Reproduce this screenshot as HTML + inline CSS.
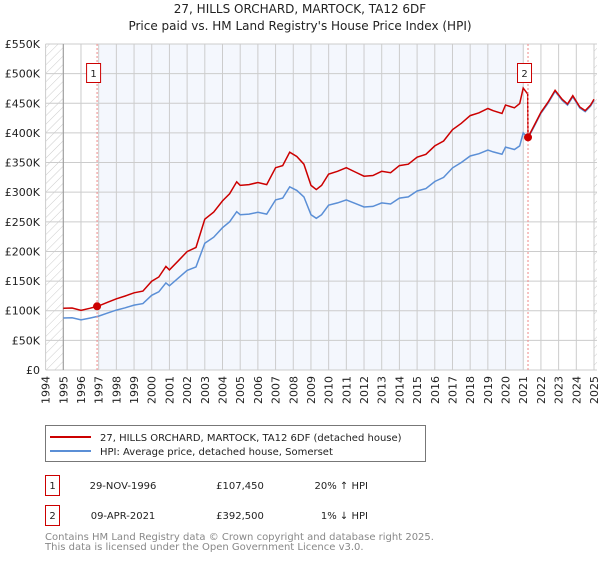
<!DOCTYPE html>
<html><head><meta charset="utf-8"><style>
body{margin:0;background:#fff;font-family:"DejaVu Sans","Liberation Sans",sans-serif;}
svg text{font-family:"DejaVu Sans","Liberation Sans",sans-serif;}
</style></head><body>
<svg id="c" width="600" height="560" xmlns="http://www.w3.org/2000/svg">
<defs><pattern id="hatch" width="6" height="6" patternUnits="userSpaceOnUse" patternTransform="rotate(45)"><line x1="0" y1="0" x2="0" y2="6" stroke="#ccc" stroke-width="1"/></pattern></defs>
<text x="300" y="13" text-anchor="middle" font-size="12" fill="#222">27, HILLS ORCHARD, MARTOCK, TA12 6DF</text>
<text x="300" y="30" text-anchor="middle" font-size="12" fill="#222">Price paid vs. HM Land Registry's House Price Index (HPI)</text>
<g id="plot"></g>
<g>
<rect x="45.5" y="425.5" width="380" height="36" fill="#fff" stroke="#777"/>
<line x1="50" y1="437" x2="91" y2="437" stroke="#cc0000" stroke-width="2"/>
<text x="100" y="441" font-size="10" fill="#222">27, HILLS ORCHARD, MARTOCK, TA12 6DF (detached house)</text>
<line x1="50" y1="451" x2="91" y2="451" stroke="#5b8fd6" stroke-width="2"/>
<text x="100" y="455" font-size="10" fill="#222">HPI: Average price, detached house, Somerset</text>
</g>
<g font-size="10" fill="#222">
<rect x="45.5" y="475.5" width="14" height="20" fill="#fff" stroke="#cc0000"/>
<text x="52.5" y="489" text-anchor="middle">1</text>
<text x="123" y="489" text-anchor="middle">29-NOV-1996</text>
<text x="240" y="489" text-anchor="middle">£107,450</text>
<text x="368" y="489" text-anchor="end">20% ↑ HPI</text>
<rect x="45.5" y="505.5" width="14" height="20" fill="#fff" stroke="#cc0000"/>
<text x="52.5" y="519" text-anchor="middle">2</text>
<text x="123" y="519" text-anchor="middle">09-APR-2021</text>
<text x="240" y="519" text-anchor="middle">£392,500</text>
<text x="368" y="519" text-anchor="end">1% ↓ HPI</text>
</g>
<text x="45" y="540" font-size="10" fill="#888">Contains HM Land Registry data © Crown copyright and database right 2025.</text>
<text x="45" y="550" font-size="10" fill="#888">This data is licensed under the Open Government Licence v3.0.</text>
</svg>
<script>
const hpiYears=[1995,1995.5,1996,1996.5,1997,1997.5,1998,1998.5,1999,1999.5,2000,2000.4,2000.8,2001,2001.5,2002,2002.5,2003,2003.5,2004,2004.4,2004.8,2005,2005.5,2006,2006.5,2007,2007.4,2007.8,2008.2,2008.6,2009,2009.3,2009.6,2010,2010.5,2011,2011.5,2012,2012.5,2013,2013.5,2014,2014.5,2015,2015.5,2016,2016.5,2017,2017.5,2018,2018.5,2019,2019.3,2019.8,2020,2020.5,2020.8,2021,2021.27,2021.6,2022,2022.4,2022.8,2023.2,2023.5,2023.8,2024.2,2024.5,2024.8,2025];
const hpiValues=[87700,88000,84500,87500,91000,96000,101000,105000,109500,112000,126000,132000,147000,142000,155000,168000,174000,214000,224000,240000,250000,267000,262000,263000,266000,263000,287000,290000,309000,303000,292000,262000,256000,262000,278000,282000,287000,281000,275000,276000,282000,280000,290000,292000,302000,306000,318000,325000,341000,350000,361000,365000,371000,368000,364000,376000,372000,378000,400000,391000,410000,433000,450000,470000,455000,447000,461000,442000,436000,445000,455000];
const yTicks=[0,50000,100000,150000,200000,250000,300000,350000,400000,450000,500000,550000];
const yTickLabels=["£0","£50K","£100K","£150K","£200K","£250K","£300K","£350K","£400K","£450K","£500K","£550K"];
const xTicks=[1994,1995,1996,1997,1998,1999,2000,2001,2002,2003,2004,2005,2006,2007,2008,2009,2010,2011,2012,2013,2014,2015,2016,2017,2018,2019,2020,2021,2022,2023,2024,2025];
const saleDates=[1996.91,2021.27];
const salePrices=[107450,392500];
const saleLabels=["1","2"];

const X0=45.6,X1=594,Y0=370,Y1=44;
const xs=y=>X0+(y-1994)/(2025-1994)*(X1-X0);
const ys=v=>Y0-(v/550000)*(Y0-Y1);
const NS="http://www.w3.org/2000/svg";
const g=document.getElementById('plot');
function el(t,a){const e=document.createElementNS(NS,t);for(const k in a)e.setAttribute(k,a[k]);g.appendChild(e);return e;}
function hpiAt(t){for(let i=0;i<hpiYears.length-1;i++){if(t>=hpiYears[i]&&t<=hpiYears[i+1]){const f=(t-hpiYears[i])/(hpiYears[i+1]-hpiYears[i]);return hpiValues[i]+f*(hpiValues[i+1]-hpiValues[i]);}}return hpiValues[hpiValues.length-1];}

let r=el('rect',{x:X0,y:Y1,width:X1-X0+3,height:Y0-Y1,fill:'#fff'});

r=el('rect',{x:X0,y:Y1,width:xs(1995)-X0,height:Y0-Y1,fill:'url(#hatch)'});

r=el('rect',{x:X1,y:Y1,width:3,height:Y0-Y1,fill:'url(#hatch)'});

r=el('rect',{x:xs(1997),y:Y1,width:xs(2021.05)-xs(1997),height:Y0-Y1,fill:'#f4f7fd'});


yTicks.forEach((v,i)=>{
 const l=el('line',{x1:X0,x2:X1+3,y1:ys(v),y2:ys(v),stroke:'#ccc','stroke-width':1});
 
 const t=el('text',{x:40,y:ys(v)+4,'text-anchor':'end','font-size':11,fill:'#222'});t.textContent=yTickLabels[i];
 
});
xTicks.forEach(y=>{
 const l=el('line',{x1:xs(y),x2:xs(y),y1:Y1,y2:Y0,stroke:'#ccc','stroke-width':1});
 
 const t=el('text',{x:0,y:0,'font-size':11,fill:'#222','text-anchor':'end',transform:`translate(${xs(y)+4},${Y0+6}) rotate(-90)`});t.textContent=y;
 
});
let ax=el('line',{x1:xs(1995),x2:xs(1995),y1:Y1,y2:Y0,stroke:'#999'});


let d=hpiYears.map((y,i)=>(i?'L':'M')+xs(y).toFixed(1)+' '+ys(hpiValues[i]).toFixed(1)).join('');
let p=el('path',{d:d,fill:'none',stroke:'#5b8fd6','stroke-width':1.5});


const r1=salePrices[0]/hpiAt(saleDates[0]), r2=salePrices[1]/hpiAt(saleDates[1]);
let pts=[];
hpiYears.forEach((y,i)=>{ if(y<saleDates[1]) pts.push([y,hpiValues[i]*r1]); });
pts.push([saleDates[1]-0.02,hpiAt(saleDates[1]-0.02)*r1]);
pts.push([saleDates[1],salePrices[1]]);
hpiYears.forEach((y,i)=>{ if(y>saleDates[1]) pts.push([y,hpiValues[i]*r2]); });
d=pts.map((q,i)=>(i?'L':'M')+xs(q[0]).toFixed(1)+' '+ys(q[1]).toFixed(1)).join('');
p=el('path',{d:d,fill:'none',stroke:'#cc0000','stroke-width':1.5});


saleDates.forEach((s,i)=>{
 const l=el('line',{x1:xs(s),x2:xs(s),y1:Y1,y2:Y0,stroke:'#e88','stroke-dasharray':'2,2'});
 
 const c=el('circle',{cx:xs(s),cy:ys(salePrices[i]),r:4,fill:'#cc0000'});
 
 const b=el('rect',{x:xs(s)-10.5,y:63.5,width:14,height:19,fill:'#fff',stroke:'#cc0000'});
 
 const t=el('text',{x:xs(s)-3.5,y:77,'text-anchor':'middle','font-size':10,fill:'#222'});t.textContent=saleLabels[i];
 
});
</script>
</body></html>
